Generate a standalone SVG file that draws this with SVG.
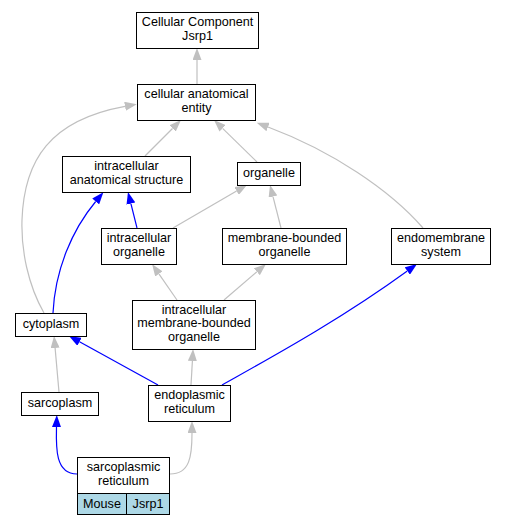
<svg xmlns="http://www.w3.org/2000/svg" width="507" height="525" viewBox="0 0 507 525">
<style>
.n{fill:#fff;stroke:#000;stroke-width:1}
.t{fill:#add8e6;stroke:#000;stroke-width:1}
text{font-family:"Liberation Sans",Arial,sans-serif;font-size:12.6px;text-anchor:middle;fill:#000}
.g{fill:none;stroke:#c0c0c0;stroke-width:1.2}
.b{fill:none;stroke:#0000ff;stroke-width:1.2}
.g.a{marker-end:url(#ag)}
.b.a{marker-end:url(#ab)}
</style>
<defs>
<marker id="ag" viewBox="0 0 12 9" refX="0" refY="4.5" markerWidth="12" markerHeight="9" markerUnits="userSpaceOnUse" orient="auto"><path d="M0,0 L12,4.5 L0,9 z" fill="#c0c0c0"/></marker>
<marker id="ab" viewBox="0 0 12 9" refX="0" refY="4.5" markerWidth="12" markerHeight="9" markerUnits="userSpaceOnUse" orient="auto"><path d="M0,0 L12,4.5 L0,9 z" fill="#0000ff"/></marker>
</defs>
<rect width="507" height="525" fill="#fff"/>
<g id="edges">
<path class="g a" d="M197,84 L197,60"/>
<path class="g a" d="M145,156 L172.5,128.5"/>
<path class="g a" d="M257,162 L222.6,128.4"/>
<path class="g a" d="M423,228 C390,190 332,151 268,127"/>
<path class="g a" d="M44,313 C28,285 21,250 22,220 C24,160 50,120 125,106.3"/>
<path class="b a" d="M53,313 C55,270 72,230 95.7,201.5"/>
<path class="b a" d="M137,228 L130.9,203.6"/>
<path class="g a" d="M173,228 L236.6,191"/>
<path class="g a" d="M281,228 L273,196.6"/>
<path class="g a" d="M177,300 L158.9,273.9"/>
<path class="g a" d="M224,300 L256.9,271.8"/>
<path class="b a" d="M158,385 L79.5,341.8"/>
<path class="g a" d="M191,385 L192.4,361"/>
<path class="b a" d="M222,385 C270,358 340,320 407.3,271"/>
<path class="g a" d="M59,392 L55.1,348"/>
<path class="b a" d="M77,474 C55,474 56,447 56.5,427"/>
<path class="g a" d="M170,474 C190,474 192,456 192,433"/>
</g>
<g id="n_cc"><rect class="n" x="136.5" y="12.5" width="122" height="36"/><text x="197.5" y="26.3">Cellular Component</text><text x="197.5" y="40">Jsrp1</text></g>
<g id="n_cae"><rect class="n" x="137.5" y="84.5" width="118" height="36"/><text x="196.5" y="98.3">cellular anatomical</text><text x="196.5" y="112">entity</text></g>
<g id="n_ias"><rect class="n" x="62.5" y="156.5" width="128" height="36"/><text x="126.5" y="170.3">intracellular</text><text x="126.5" y="184">anatomical structure</text></g>
<g id="n_org"><rect class="n" x="237.5" y="162.5" width="63" height="23"/><text x="269" y="176.7">organelle</text></g>
<g id="n_io"><rect class="n" x="101.5" y="228.5" width="75" height="36"/><text x="139" y="242.3">intracellular</text><text x="139" y="256">organelle</text></g>
<g id="n_mbo"><rect class="n" x="222.5" y="228.5" width="124" height="36"/><text x="284.5" y="242.3">membrane-bounded</text><text x="284.5" y="256">organelle</text></g>
<g id="n_ems"><rect class="n" x="391.5" y="228.5" width="99" height="36"/><text x="441" y="242.3">endomembrane</text><text x="441" y="256">system</text></g>
<g id="n_cyto"><rect class="n" x="15.5" y="313.5" width="71" height="23"/><text x="51" y="327.7">cytoplasm</text></g>
<g id="n_imbo"><rect class="n" x="132.5" y="300.5" width="123" height="49"/><text x="194" y="313.5">intracellular</text><text x="194" y="327">membrane-bounded</text><text x="194" y="340.5">organelle</text></g>
<g id="n_sarco"><rect class="n" x="21.5" y="392.5" width="77" height="23"/><text x="60" y="406.7">sarcoplasm</text></g>
<g id="n_er"><rect class="n" x="148.5" y="385.5" width="82" height="36"/><text x="189.5" y="399.3">endoplasmic</text><text x="189.5" y="413">reticulum</text></g>
<g id="n_sr"><rect class="n" x="77.5" y="457.5" width="92" height="36"/><text x="123.5" y="471.3">sarcoplasmic</text><text x="123.5" y="485">reticulum</text><rect class="t" x="77.5" y="493.5" width="49" height="21"/><rect class="t" x="126.5" y="493.5" width="43" height="21"/><text x="102" y="507.5">Mouse</text><text x="148" y="507.5">Jsrp1</text></g>
</svg>
